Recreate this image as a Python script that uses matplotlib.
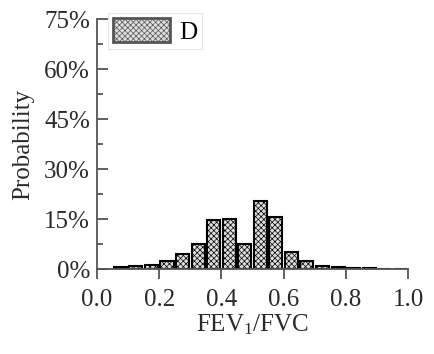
import matplotlib
matplotlib.use("Agg")
import matplotlib.pyplot as plt
from matplotlib.ticker import MultipleLocator, FuncFormatter

serif = 'Liberation Serif'
plt.rcParams['font.family'] = [serif, 'DejaVu Serif']
plt.rcParams['mathtext.fontset'] = 'custom'
plt.rcParams['mathtext.rm'] = serif
plt.rcParams['mathtext.it'] = serif + ':italic'
plt.rcParams['hatch.color'] = '#c2c2c2'
plt.rcParams['hatch.linewidth'] = 0.5

bin_centers = [0.075, 0.125, 0.175, 0.225, 0.275, 0.325, 0.375, 0.425, 0.475,
               0.525, 0.575, 0.625, 0.675, 0.725, 0.775, 0.825, 0.875, 0.925, 0.975]
probability = [0.6, 1.1, 1.3, 2.6, 4.7, 7.5, 14.8, 15.1, 7.5,
               20.6, 15.7, 5.3, 2.6, 1.0, 0.7, 0.4, 0.3, 0.0, 0.1]
series_label = "D"

fig = plt.figure(figsize=(4.35, 3.54), dpi=100)
ax = fig.add_axes([0.223, 0.239, 0.715, 0.706])

ax.bar(bin_centers, probability, width=0.042, facecolor='#dedede',
       edgecolor='black', linewidth=1.5, hatch='xxxxxx', label=series_label)

ax.set_xlim(0, 1.0)
ax.set_ylim(0, 75)
ax.xaxis.set_major_locator(MultipleLocator(0.2))
ax.yaxis.set_major_locator(MultipleLocator(15))
ax.yaxis.set_minor_locator(MultipleLocator(7.5))
ax.yaxis.set_major_formatter(FuncFormatter(lambda v, p: f"{v:.0f}%"))
ax.xaxis.set_major_formatter(FuncFormatter(lambda v, p: f"{v:.1f}"))

for s in ['top', 'right']:
    ax.spines[s].set_visible(False)
for s in ['left', 'bottom']:
    ax.spines[s].set_linewidth(1.3)
    ax.spines[s].set_color('#555555')

ax.tick_params(axis='y', which='major', direction='in', length=8, width=1.3,
               color='#555555', labelsize=18, pad=5, labelcolor='#2a2a2a')
ax.tick_params(axis='y', which='minor', direction='in', length=4.5, width=1.3,
               color='#555555')
ax.tick_params(axis='x', which='major', direction='out', length=7, width=1.3,
               color='#555555', labelsize=18, pad=7, labelcolor='#2a2a2a')

ax.set_xlabel("FEV$_1$/FVC", fontsize=18, labelpad=1, color='#2a2a2a')
ax.set_ylabel("Probability", fontsize=18, labelpad=7, color='#2a2a2a')

leg = ax.legend(loc='upper left', bbox_to_anchor=(0.035, 1.025), fontsize=18,
                frameon=True, fancybox=False, edgecolor='#e0e0e0',
                handlelength=2.3, handleheight=1.1, handletextpad=0.35,
                borderpad=0.2, borderaxespad=0.0)
leg.get_frame().set_linewidth(0.8)
for h in leg.legend_handles:
    h.set_edgecolor('#555555')
    h.set_linewidth(2)

fig.savefig("out.png", dpi=100)
